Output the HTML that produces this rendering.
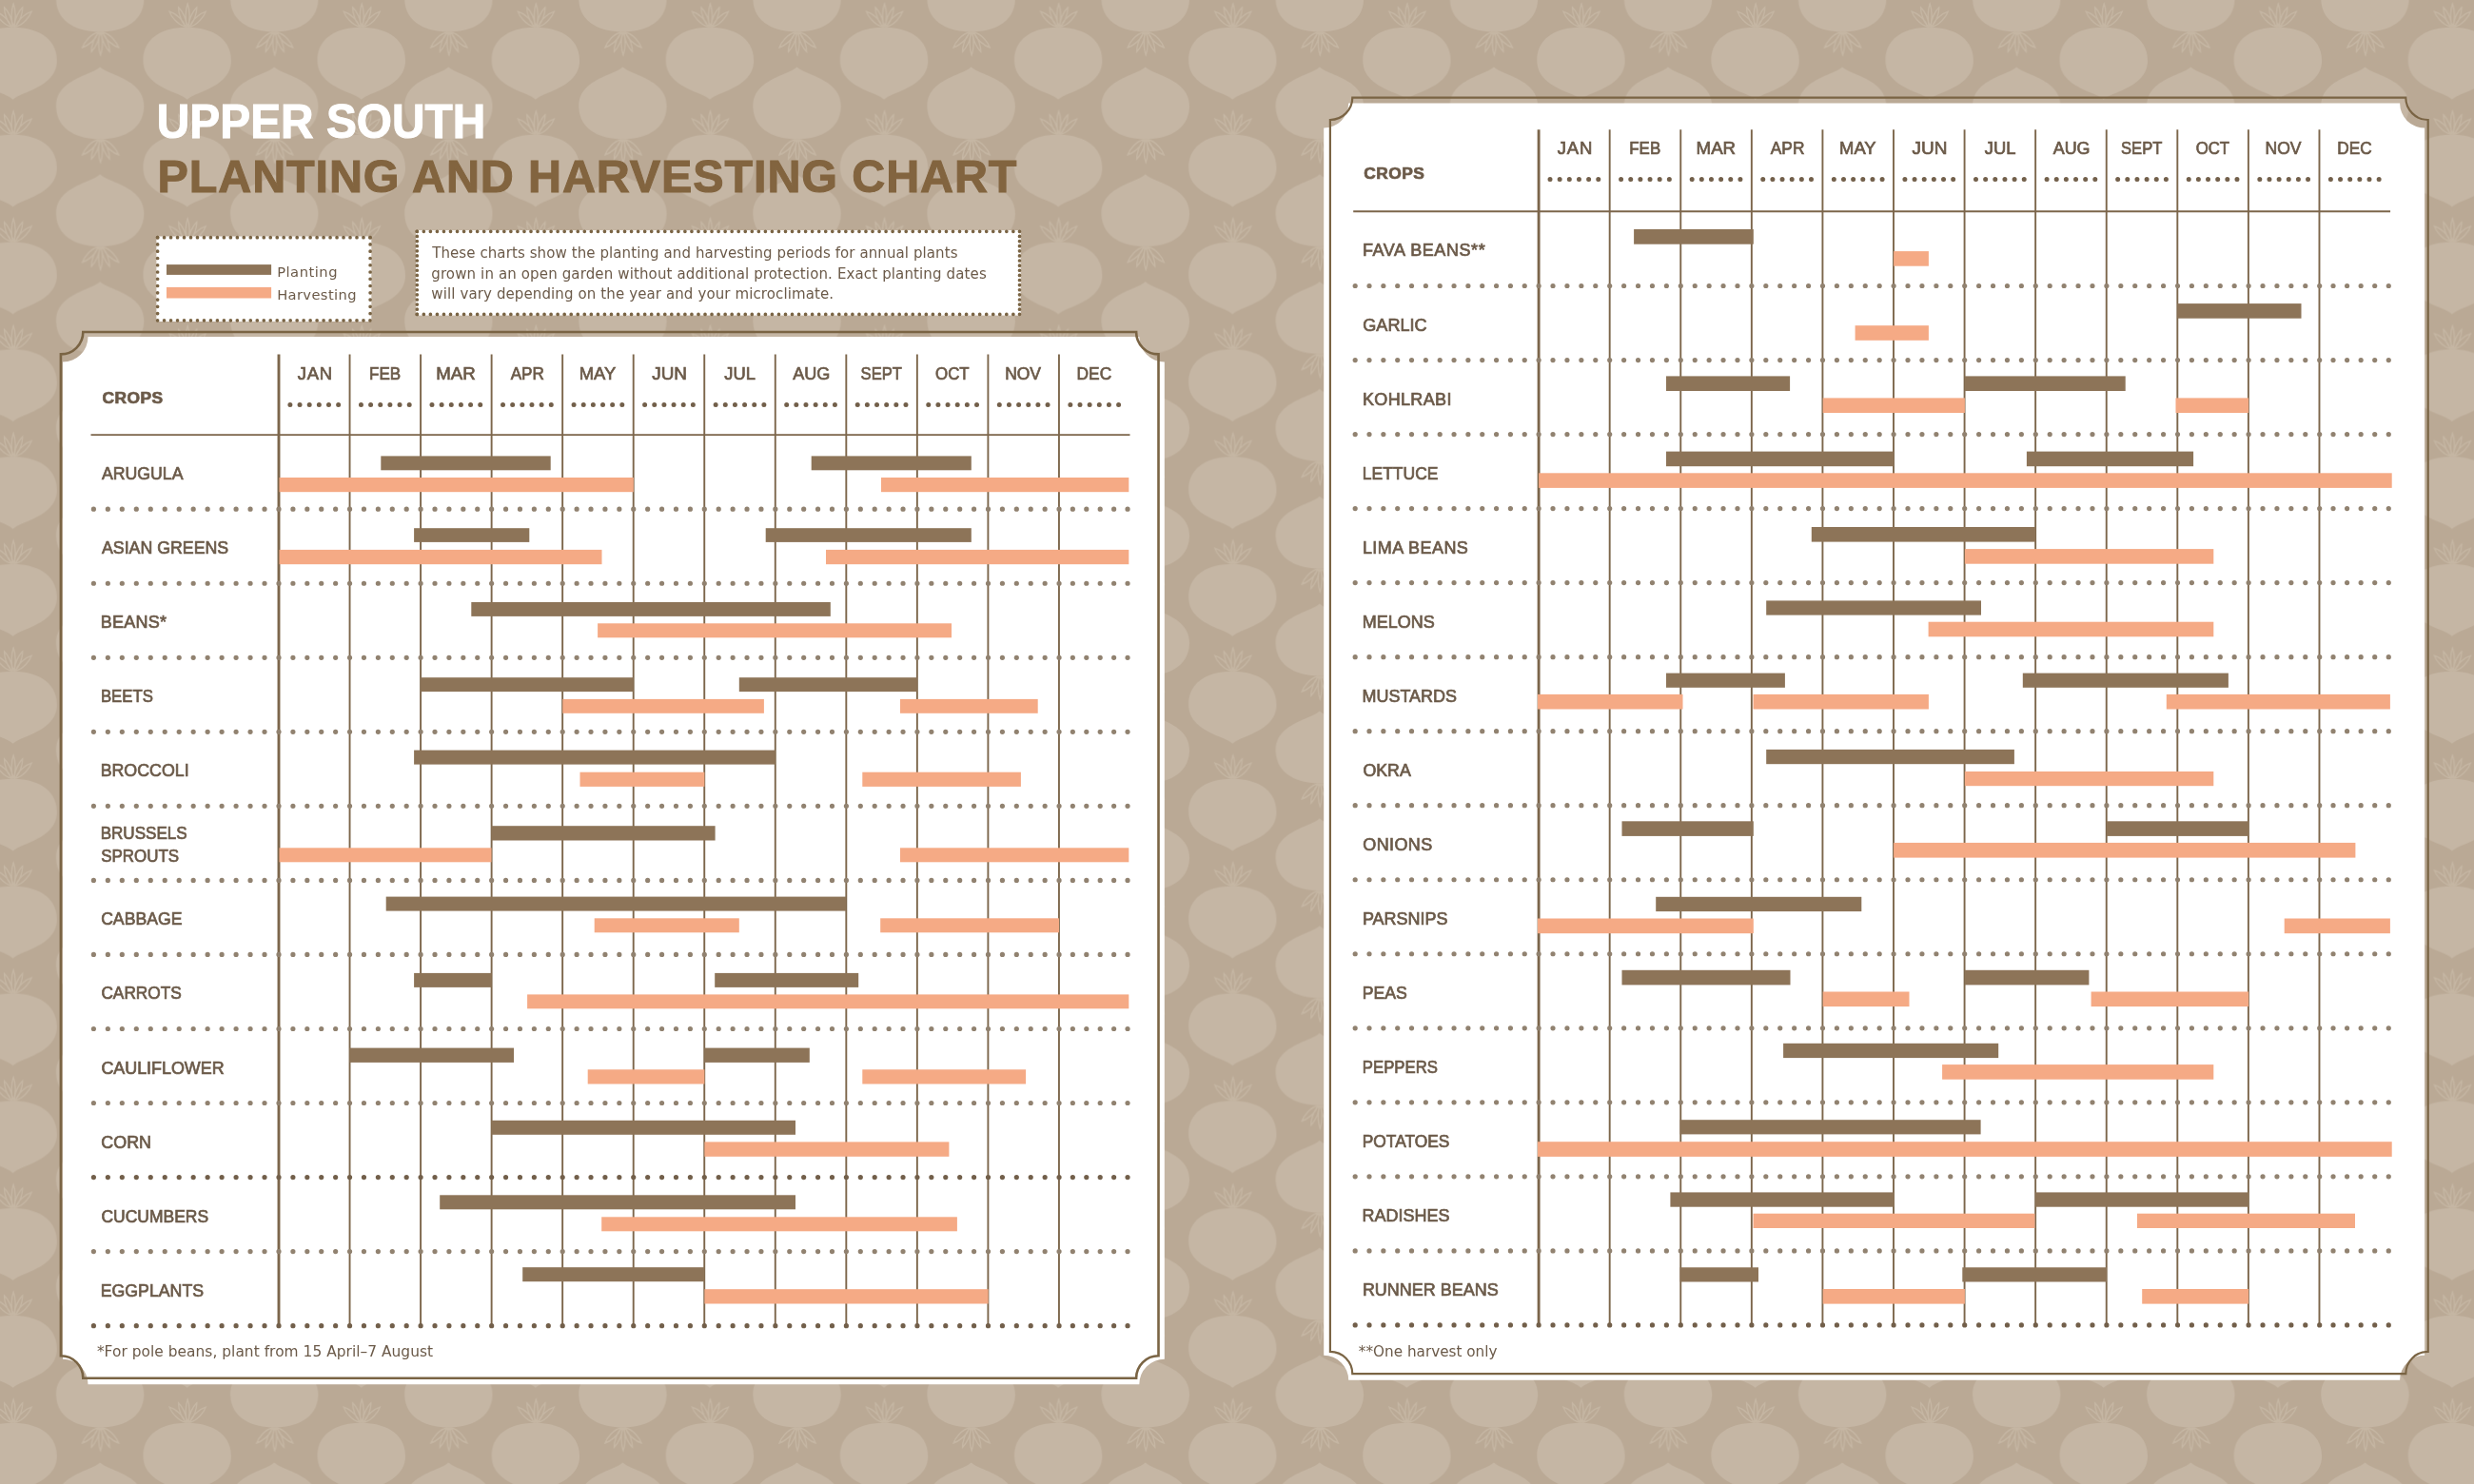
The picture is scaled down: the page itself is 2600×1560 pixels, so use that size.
<!DOCTYPE html>
<html lang="en"><head><meta charset="utf-8"><title>Upper South Planting and Harvesting Chart</title>
<style>html,body{margin:0;padding:0;background:#baa995;}svg{display:block;}text{font-family:"Liberation Sans", sans-serif;}text.b{font-family:"DejaVu Sans", "Liberation Sans", sans-serif;}</style></head>
<body>
<svg width="2600" height="1560" viewBox="0 0 2600 1560">
<g>
<defs>
<g id="tn"><path d="M0,0 C22,0 46.2,9 46.2,35 C46.2,55 27,63 13,69 C7,71.5 2.5,73.6 0,76 C-2.5,73.6 -7,71.5 -13,69 C-27,63 -46.2,55 -46.2,35 C-46.2,9 -22,0 0,0Z" fill="#c5b6a4"/><path d="M-2,-0.5 C-3.98,-8.39 -13.59,-14.98 -18.54,-16.48 C-16.88,-11.58 -9.95,-2.2 -2,-0.5 M3,-0.5 C10.95,-2.2 17.88,-11.58 19.54,-16.48 C14.59,-14.98 4.98,-8.39 3,-0.5 M-0.8,-0.5 C0.07,-7.97 -5.56,-17.56 -9.04,-20.9 C-9.23,-16.08 -6.61,-5.27 -0.8,-0.5 M1.8,-0.5 C7.61,-5.27 10.23,-16.08 10.04,-20.9 C6.56,-17.56 0.93,-7.97 1.8,-0.5 M0.5,-0.5 C3.8,-7.7 2.31,-19.7 0.5,-24.5 C-1.31,-19.7 -2.8,-7.7 0.5,-0.5" fill="none" stroke="#c5b6a3" stroke-width="1.4" stroke-linecap="round"/></g>
<pattern id="bgp" width="183.1" height="112.85" patternUnits="userSpaceOnUse">
<rect width="184.1" height="113.85" fill="#baa995"/>
<use href="#tn" x="13.6" y="-84.25"/>
<use href="#tn" x="13.6" y="28.6"/>
<use href="#tn" x="13.6" y="141.45"/>
<use href="#tn" x="196.7" y="-84.25"/>
<use href="#tn" x="196.7" y="28.6"/>
<use href="#tn" x="196.7" y="141.45"/>
<use href="#tn" transform="translate(105.15,-79.4) scale(1,-1)"/>
<use href="#tn" transform="translate(105.15,33.45) scale(1,-1)"/>
<use href="#tn" transform="translate(105.15,146.3) scale(1,-1)"/>
<use href="#tn" transform="translate(105.15,259.15) scale(1,-1)"/>
</pattern>
<filter id="nf" color-interpolation-filters="sRGB" filterUnits="userSpaceOnUse" x="0" y="0" width="2600" height="1560"><feOffset dx="0" dy="0"/></filter>
</defs>
<rect width="2600" height="1560" fill="url(#bgp)"/>
<rect x="164.4" y="248.5" width="225.9" height="89.5" fill="#ffffff"/>
<line x1="165.6" y1="249.7" x2="389.1" y2="249.7" stroke="#7a6444" stroke-width="3.7" stroke-linecap="round" stroke-dasharray="0 6.98"/>
<line x1="165.6" y1="336.8" x2="389.1" y2="336.8" stroke="#7a6444" stroke-width="3.7" stroke-linecap="round" stroke-dasharray="0 6.98"/>
<line x1="165.6" y1="249.7" x2="165.6" y2="336.8" stroke="#7a6444" stroke-width="3.7" stroke-linecap="round" stroke-dasharray="0 7.26"/>
<line x1="389.1" y1="249.7" x2="389.1" y2="336.8" stroke="#7a6444" stroke-width="3.7" stroke-linecap="round" stroke-dasharray="0 7.26"/>
<rect x="175" y="278.1" width="110.1" height="10.8" fill="#8d7458"/>
<rect x="175" y="301.9" width="110.1" height="11.6" fill="#f5aa85"/>
<rect x="437.1" y="242.1" width="635.6" height="89.5" fill="#ffffff"/>
<line x1="438.3" y1="243.3" x2="1071.5" y2="243.3" stroke="#7a6444" stroke-width="3.7" stroke-linecap="round" stroke-dasharray="0 7.04"/>
<line x1="438.3" y1="330.4" x2="1071.5" y2="330.4" stroke="#7a6444" stroke-width="3.7" stroke-linecap="round" stroke-dasharray="0 7.04"/>
<line x1="438.3" y1="243.3" x2="438.3" y2="330.4" stroke="#7a6444" stroke-width="3.7" stroke-linecap="round" stroke-dasharray="0 5.12"/>
<line x1="1071.5" y1="243.3" x2="1071.5" y2="330.4" stroke="#7a6444" stroke-width="3.7" stroke-linecap="round" stroke-dasharray="0 5.12"/>
<path d="M92.5,354 L1197.3,354 A26.5,26.5 0 0 0 1223.8,380.5 L1223.8,1428.7 A26.5,26.5 0 0 0 1197.3,1455.2 L92.5,1455.2 A26.5,26.5 0 0 0 66,1428.7 L66,380.5 A26.5,26.5 0 0 0 92.5,354Z" fill="#ffffff"/>
<path d="M87.3,349 L1194.1,349 A23.4,23.4 0 0 0 1217.5,372.4 L1217.5,1425.3 A23.4,23.4 0 0 0 1194.1,1448.7 L87.3,1448.7 A23.4,23.4 0 0 0 63.9,1425.3 L63.9,372.4 A23.4,23.4 0 0 0 87.3,349Z" fill="none" stroke="#7a6444" stroke-width="2.6"/>
<path d="M1417.2,108.5 L2522.1,108.5 A26,26 0 0 0 2548.1,134.5 L2548.1,1424.8 A26,26 0 0 0 2522.1,1450.8 L1417.2,1450.8 A26,26 0 0 0 1391.2,1424.8 L1391.2,134.5 A26,26 0 0 0 1417.2,108.5Z" fill="#ffffff"/>
<path d="M1421.3,102.6 L2528.3,102.6 A23.4,23.4 0 0 0 2551.7,126 L2551.7,1420.8 A23.4,23.4 0 0 0 2528.3,1444.2 L1421.3,1444.2 A23.4,23.4 0 0 0 1397.9,1420.8 L1397.9,126 A23.4,23.4 0 0 0 1421.3,102.6Z" fill="none" stroke="#7a6444" stroke-width="2.2"/>
<line x1="293" y1="372.6" x2="293" y2="1393.64" stroke="#7c664b" stroke-width="2.9"/>
<line x1="367.54" y1="372.6" x2="367.54" y2="1393.64" stroke="#7c664b" stroke-width="1.9"/>
<line x1="442.08" y1="372.6" x2="442.08" y2="1393.64" stroke="#7c664b" stroke-width="1.9"/>
<line x1="516.62" y1="372.6" x2="516.62" y2="1393.64" stroke="#7c664b" stroke-width="1.9"/>
<line x1="591.16" y1="372.6" x2="591.16" y2="1393.64" stroke="#7c664b" stroke-width="1.9"/>
<line x1="665.7" y1="372.6" x2="665.7" y2="1393.64" stroke="#7c664b" stroke-width="1.9"/>
<line x1="740.24" y1="372.6" x2="740.24" y2="1393.64" stroke="#7c664b" stroke-width="1.9"/>
<line x1="814.78" y1="372.6" x2="814.78" y2="1393.64" stroke="#7c664b" stroke-width="1.9"/>
<line x1="889.32" y1="372.6" x2="889.32" y2="1393.64" stroke="#7c664b" stroke-width="1.9"/>
<line x1="963.86" y1="372.6" x2="963.86" y2="1393.64" stroke="#7c664b" stroke-width="1.9"/>
<line x1="1038.4" y1="372.6" x2="1038.4" y2="1393.64" stroke="#7c664b" stroke-width="1.9"/>
<line x1="1112.94" y1="372.6" x2="1112.94" y2="1393.64" stroke="#7c664b" stroke-width="1.9"/>
<line x1="95.5" y1="457.1" x2="1187.48" y2="457.1" stroke="#7c664b" stroke-width="1.9"/>
<line x1="304.89" y1="425.4" x2="355.87" y2="425.4" stroke="#725f4a" stroke-width="5" stroke-linecap="round" stroke-dasharray="0 10.15"/>
<line x1="379.44" y1="425.4" x2="430.41" y2="425.4" stroke="#725f4a" stroke-width="5" stroke-linecap="round" stroke-dasharray="0 10.15"/>
<line x1="453.98" y1="425.4" x2="504.95" y2="425.4" stroke="#725f4a" stroke-width="5" stroke-linecap="round" stroke-dasharray="0 10.15"/>
<line x1="528.52" y1="425.4" x2="579.49" y2="425.4" stroke="#725f4a" stroke-width="5" stroke-linecap="round" stroke-dasharray="0 10.15"/>
<line x1="603.06" y1="425.4" x2="654.03" y2="425.4" stroke="#725f4a" stroke-width="5" stroke-linecap="round" stroke-dasharray="0 10.15"/>
<line x1="677.6" y1="425.4" x2="728.57" y2="425.4" stroke="#725f4a" stroke-width="5" stroke-linecap="round" stroke-dasharray="0 10.15"/>
<line x1="752.13" y1="425.4" x2="803.11" y2="425.4" stroke="#725f4a" stroke-width="5" stroke-linecap="round" stroke-dasharray="0 10.15"/>
<line x1="826.68" y1="425.4" x2="877.65" y2="425.4" stroke="#725f4a" stroke-width="5" stroke-linecap="round" stroke-dasharray="0 10.15"/>
<line x1="901.22" y1="425.4" x2="952.19" y2="425.4" stroke="#725f4a" stroke-width="5" stroke-linecap="round" stroke-dasharray="0 10.15"/>
<line x1="975.76" y1="425.4" x2="1026.73" y2="425.4" stroke="#725f4a" stroke-width="5" stroke-linecap="round" stroke-dasharray="0 10.15"/>
<line x1="1050.3" y1="425.4" x2="1101.27" y2="425.4" stroke="#725f4a" stroke-width="5" stroke-linecap="round" stroke-dasharray="0 10.15"/>
<line x1="1124.84" y1="425.4" x2="1175.81" y2="425.4" stroke="#725f4a" stroke-width="5" stroke-linecap="round" stroke-dasharray="0 10.15"/>
<line x1="98.39" y1="535.2" x2="278.53" y2="535.2" stroke="#918270" stroke-width="5.2" stroke-linecap="round" stroke-dasharray="0 14.97"/>
<line x1="293" y1="535.2" x2="1113.44" y2="535.2" stroke="#918270" stroke-width="5.2" stroke-linecap="round" stroke-dasharray="0 14.91"/>
<line x1="1127.36" y1="535.2" x2="1185.54" y2="535.2" stroke="#918270" stroke-width="5.2" stroke-linecap="round" stroke-dasharray="0 14.42"/>
<line x1="98.39" y1="613.24" x2="278.53" y2="613.24" stroke="#918270" stroke-width="5.2" stroke-linecap="round" stroke-dasharray="0 14.97"/>
<line x1="293" y1="613.24" x2="1113.44" y2="613.24" stroke="#918270" stroke-width="5.2" stroke-linecap="round" stroke-dasharray="0 14.91"/>
<line x1="1127.36" y1="613.24" x2="1185.54" y2="613.24" stroke="#918270" stroke-width="5.2" stroke-linecap="round" stroke-dasharray="0 14.42"/>
<line x1="98.39" y1="691.28" x2="278.53" y2="691.28" stroke="#918270" stroke-width="5.2" stroke-linecap="round" stroke-dasharray="0 14.97"/>
<line x1="293" y1="691.28" x2="1113.44" y2="691.28" stroke="#918270" stroke-width="5.2" stroke-linecap="round" stroke-dasharray="0 14.91"/>
<line x1="1127.36" y1="691.28" x2="1185.54" y2="691.28" stroke="#918270" stroke-width="5.2" stroke-linecap="round" stroke-dasharray="0 14.42"/>
<line x1="98.39" y1="769.32" x2="278.53" y2="769.32" stroke="#918270" stroke-width="5.2" stroke-linecap="round" stroke-dasharray="0 14.97"/>
<line x1="293" y1="769.32" x2="1113.44" y2="769.32" stroke="#918270" stroke-width="5.2" stroke-linecap="round" stroke-dasharray="0 14.91"/>
<line x1="1127.36" y1="769.32" x2="1185.54" y2="769.32" stroke="#918270" stroke-width="5.2" stroke-linecap="round" stroke-dasharray="0 14.42"/>
<line x1="98.39" y1="847.36" x2="278.53" y2="847.36" stroke="#918270" stroke-width="5.2" stroke-linecap="round" stroke-dasharray="0 14.97"/>
<line x1="293" y1="847.36" x2="1113.44" y2="847.36" stroke="#918270" stroke-width="5.2" stroke-linecap="round" stroke-dasharray="0 14.91"/>
<line x1="1127.36" y1="847.36" x2="1185.54" y2="847.36" stroke="#918270" stroke-width="5.2" stroke-linecap="round" stroke-dasharray="0 14.42"/>
<line x1="98.39" y1="925.4" x2="278.53" y2="925.4" stroke="#918270" stroke-width="5.2" stroke-linecap="round" stroke-dasharray="0 14.97"/>
<line x1="293" y1="925.4" x2="1113.44" y2="925.4" stroke="#918270" stroke-width="5.2" stroke-linecap="round" stroke-dasharray="0 14.91"/>
<line x1="1127.36" y1="925.4" x2="1185.54" y2="925.4" stroke="#918270" stroke-width="5.2" stroke-linecap="round" stroke-dasharray="0 14.42"/>
<line x1="98.39" y1="1003.44" x2="278.53" y2="1003.44" stroke="#918270" stroke-width="5.2" stroke-linecap="round" stroke-dasharray="0 14.97"/>
<line x1="293" y1="1003.44" x2="1113.44" y2="1003.44" stroke="#918270" stroke-width="5.2" stroke-linecap="round" stroke-dasharray="0 14.91"/>
<line x1="1127.36" y1="1003.44" x2="1185.54" y2="1003.44" stroke="#918270" stroke-width="5.2" stroke-linecap="round" stroke-dasharray="0 14.42"/>
<line x1="98.39" y1="1081.48" x2="278.53" y2="1081.48" stroke="#918270" stroke-width="5.2" stroke-linecap="round" stroke-dasharray="0 14.97"/>
<line x1="293" y1="1081.48" x2="1113.44" y2="1081.48" stroke="#918270" stroke-width="5.2" stroke-linecap="round" stroke-dasharray="0 14.91"/>
<line x1="1127.36" y1="1081.48" x2="1185.54" y2="1081.48" stroke="#918270" stroke-width="5.2" stroke-linecap="round" stroke-dasharray="0 14.42"/>
<line x1="98.39" y1="1159.52" x2="278.53" y2="1159.52" stroke="#918270" stroke-width="5.2" stroke-linecap="round" stroke-dasharray="0 14.97"/>
<line x1="293" y1="1159.52" x2="1113.44" y2="1159.52" stroke="#918270" stroke-width="5.2" stroke-linecap="round" stroke-dasharray="0 14.91"/>
<line x1="1127.36" y1="1159.52" x2="1185.54" y2="1159.52" stroke="#918270" stroke-width="5.2" stroke-linecap="round" stroke-dasharray="0 14.42"/>
<line x1="98.39" y1="1237.56" x2="278.53" y2="1237.56" stroke="#725f4a" stroke-width="5.2" stroke-linecap="round" stroke-dasharray="0 14.97"/>
<line x1="293" y1="1237.56" x2="1113.44" y2="1237.56" stroke="#725f4a" stroke-width="5.2" stroke-linecap="round" stroke-dasharray="0 14.91"/>
<line x1="1127.36" y1="1237.56" x2="1185.54" y2="1237.56" stroke="#725f4a" stroke-width="5.2" stroke-linecap="round" stroke-dasharray="0 14.42"/>
<line x1="98.39" y1="1315.6" x2="278.53" y2="1315.6" stroke="#918270" stroke-width="5.2" stroke-linecap="round" stroke-dasharray="0 14.97"/>
<line x1="293" y1="1315.6" x2="1113.44" y2="1315.6" stroke="#918270" stroke-width="5.2" stroke-linecap="round" stroke-dasharray="0 14.91"/>
<line x1="1127.36" y1="1315.6" x2="1185.54" y2="1315.6" stroke="#918270" stroke-width="5.2" stroke-linecap="round" stroke-dasharray="0 14.42"/>
<line x1="98.39" y1="1393.64" x2="278.53" y2="1393.64" stroke="#725f4a" stroke-width="5.2" stroke-linecap="round" stroke-dasharray="0 14.97"/>
<line x1="293" y1="1393.64" x2="1113.44" y2="1393.64" stroke="#725f4a" stroke-width="5.2" stroke-linecap="round" stroke-dasharray="0 14.91"/>
<line x1="1127.36" y1="1393.64" x2="1185.54" y2="1393.64" stroke="#725f4a" stroke-width="5.2" stroke-linecap="round" stroke-dasharray="0 14.42"/>
<rect x="400.3" y="479.4" width="178.4" height="14.9" fill="#8d7458"/>
<rect x="852.7" y="479.4" width="168.1" height="14.9" fill="#8d7458"/>
<rect x="293.5" y="502" width="372.3" height="15.2" fill="#f5aa85"/>
<rect x="926" y="502" width="260.3" height="15.2" fill="#f5aa85"/>
<rect x="435.1" y="555.2" width="121.2" height="14.7" fill="#8d7458"/>
<rect x="804.7" y="555.2" width="216.1" height="14.7" fill="#8d7458"/>
<rect x="293.5" y="577.9" width="339" height="15.3" fill="#f5aa85"/>
<rect x="868" y="577.9" width="318.3" height="15.3" fill="#f5aa85"/>
<rect x="495.3" y="633" width="377.5" height="14.9" fill="#8d7458"/>
<rect x="628.1" y="655.3" width="371.9" height="15" fill="#f5aa85"/>
<rect x="442.1" y="712.2" width="223.5" height="14.9" fill="#8d7458"/>
<rect x="776.8" y="712.2" width="187.1" height="14.9" fill="#8d7458"/>
<rect x="591.3" y="734.9" width="211.6" height="14.9" fill="#f5aa85"/>
<rect x="946" y="734.9" width="144.7" height="14.9" fill="#f5aa85"/>
<rect x="435.1" y="788.6" width="379.7" height="15" fill="#8d7458"/>
<rect x="609.5" y="811.7" width="130.9" height="15.2" fill="#f5aa85"/>
<rect x="906.3" y="811.7" width="166.6" height="15.2" fill="#f5aa85"/>
<rect x="516.5" y="868.2" width="235.1" height="15.3" fill="#8d7458"/>
<rect x="293.5" y="891.3" width="223" height="15" fill="#f5aa85"/>
<rect x="946" y="891.3" width="240.3" height="15" fill="#f5aa85"/>
<rect x="405.7" y="942.6" width="483.4" height="15" fill="#8d7458"/>
<rect x="624.7" y="965.3" width="152.1" height="15" fill="#f5aa85"/>
<rect x="925.2" y="965.3" width="187.8" height="15" fill="#f5aa85"/>
<rect x="435.1" y="1022.9" width="81.4" height="15" fill="#8d7458"/>
<rect x="751.2" y="1022.9" width="151" height="15" fill="#8d7458"/>
<rect x="554.1" y="1045.4" width="632.2" height="14.9" fill="#f5aa85"/>
<rect x="367.4" y="1101.6" width="172.6" height="15.3" fill="#8d7458"/>
<rect x="740.4" y="1101.6" width="110.4" height="15.3" fill="#8d7458"/>
<rect x="617.7" y="1124.3" width="122.7" height="15.2" fill="#f5aa85"/>
<rect x="906.3" y="1124.3" width="171.8" height="15.2" fill="#f5aa85"/>
<rect x="516.5" y="1177.8" width="319.5" height="15" fill="#8d7458"/>
<rect x="740.4" y="1200.4" width="257" height="15.4" fill="#f5aa85"/>
<rect x="462.2" y="1256.3" width="373.8" height="15" fill="#8d7458"/>
<rect x="632.2" y="1279.3" width="373.7" height="15" fill="#f5aa85"/>
<rect x="549.2" y="1332.2" width="191.2" height="15" fill="#8d7458"/>
<rect x="740.4" y="1355.2" width="298.2" height="15.3" fill="#f5aa85"/>
<line x1="1617.1" y1="136.2" x2="1617.1" y2="1392.92" stroke="#7c664b" stroke-width="2.9"/>
<line x1="1691.68" y1="136.2" x2="1691.68" y2="1392.92" stroke="#7c664b" stroke-width="1.9"/>
<line x1="1766.26" y1="136.2" x2="1766.26" y2="1392.92" stroke="#7c664b" stroke-width="1.9"/>
<line x1="1840.84" y1="136.2" x2="1840.84" y2="1392.92" stroke="#7c664b" stroke-width="1.9"/>
<line x1="1915.42" y1="136.2" x2="1915.42" y2="1392.92" stroke="#7c664b" stroke-width="1.9"/>
<line x1="1990" y1="136.2" x2="1990" y2="1392.92" stroke="#7c664b" stroke-width="1.9"/>
<line x1="2064.58" y1="136.2" x2="2064.58" y2="1392.92" stroke="#7c664b" stroke-width="1.9"/>
<line x1="2139.16" y1="136.2" x2="2139.16" y2="1392.92" stroke="#7c664b" stroke-width="1.9"/>
<line x1="2213.74" y1="136.2" x2="2213.74" y2="1392.92" stroke="#7c664b" stroke-width="1.9"/>
<line x1="2288.32" y1="136.2" x2="2288.32" y2="1392.92" stroke="#7c664b" stroke-width="1.9"/>
<line x1="2362.9" y1="136.2" x2="2362.9" y2="1392.92" stroke="#7c664b" stroke-width="1.9"/>
<line x1="2437.48" y1="136.2" x2="2437.48" y2="1392.92" stroke="#7c664b" stroke-width="1.9"/>
<line x1="1422.2" y1="222.2" x2="2512.06" y2="222.2" stroke="#7c664b" stroke-width="1.9"/>
<line x1="1629.01" y1="188.5" x2="1679.99" y2="188.5" stroke="#725f4a" stroke-width="5" stroke-linecap="round" stroke-dasharray="0 10.15"/>
<line x1="1703.59" y1="188.5" x2="1754.57" y2="188.5" stroke="#725f4a" stroke-width="5" stroke-linecap="round" stroke-dasharray="0 10.15"/>
<line x1="1778.17" y1="188.5" x2="1829.15" y2="188.5" stroke="#725f4a" stroke-width="5" stroke-linecap="round" stroke-dasharray="0 10.15"/>
<line x1="1852.75" y1="188.5" x2="1903.73" y2="188.5" stroke="#725f4a" stroke-width="5" stroke-linecap="round" stroke-dasharray="0 10.15"/>
<line x1="1927.34" y1="188.5" x2="1978.31" y2="188.5" stroke="#725f4a" stroke-width="5" stroke-linecap="round" stroke-dasharray="0 10.15"/>
<line x1="2001.91" y1="188.5" x2="2052.89" y2="188.5" stroke="#725f4a" stroke-width="5" stroke-linecap="round" stroke-dasharray="0 10.15"/>
<line x1="2076.49" y1="188.5" x2="2127.47" y2="188.5" stroke="#725f4a" stroke-width="5" stroke-linecap="round" stroke-dasharray="0 10.15"/>
<line x1="2151.07" y1="188.5" x2="2202.05" y2="188.5" stroke="#725f4a" stroke-width="5" stroke-linecap="round" stroke-dasharray="0 10.15"/>
<line x1="2225.65" y1="188.5" x2="2276.63" y2="188.5" stroke="#725f4a" stroke-width="5" stroke-linecap="round" stroke-dasharray="0 10.15"/>
<line x1="2300.23" y1="188.5" x2="2351.21" y2="188.5" stroke="#725f4a" stroke-width="5" stroke-linecap="round" stroke-dasharray="0 10.15"/>
<line x1="2374.82" y1="188.5" x2="2425.79" y2="188.5" stroke="#725f4a" stroke-width="5" stroke-linecap="round" stroke-dasharray="0 10.15"/>
<line x1="2449.39" y1="188.5" x2="2500.37" y2="188.5" stroke="#725f4a" stroke-width="5" stroke-linecap="round" stroke-dasharray="0 10.15"/>
<line x1="1424.18" y1="300.5" x2="1602.76" y2="300.5" stroke="#918270" stroke-width="5.2" stroke-linecap="round" stroke-dasharray="0 14.84"/>
<line x1="1617.1" y1="300.5" x2="2437.98" y2="300.5" stroke="#918270" stroke-width="5.2" stroke-linecap="round" stroke-dasharray="0 14.92"/>
<line x1="2452.04" y1="300.5" x2="2510.78" y2="300.5" stroke="#918270" stroke-width="5.2" stroke-linecap="round" stroke-dasharray="0 14.56"/>
<line x1="1424.18" y1="378.53" x2="1602.76" y2="378.53" stroke="#918270" stroke-width="5.2" stroke-linecap="round" stroke-dasharray="0 14.84"/>
<line x1="1617.1" y1="378.53" x2="2437.98" y2="378.53" stroke="#918270" stroke-width="5.2" stroke-linecap="round" stroke-dasharray="0 14.92"/>
<line x1="2452.04" y1="378.53" x2="2510.78" y2="378.53" stroke="#918270" stroke-width="5.2" stroke-linecap="round" stroke-dasharray="0 14.56"/>
<line x1="1424.18" y1="456.56" x2="1602.76" y2="456.56" stroke="#918270" stroke-width="5.2" stroke-linecap="round" stroke-dasharray="0 14.84"/>
<line x1="1617.1" y1="456.56" x2="2437.98" y2="456.56" stroke="#918270" stroke-width="5.2" stroke-linecap="round" stroke-dasharray="0 14.92"/>
<line x1="2452.04" y1="456.56" x2="2510.78" y2="456.56" stroke="#918270" stroke-width="5.2" stroke-linecap="round" stroke-dasharray="0 14.56"/>
<line x1="1424.18" y1="534.59" x2="1602.76" y2="534.59" stroke="#918270" stroke-width="5.2" stroke-linecap="round" stroke-dasharray="0 14.84"/>
<line x1="1617.1" y1="534.59" x2="2437.98" y2="534.59" stroke="#918270" stroke-width="5.2" stroke-linecap="round" stroke-dasharray="0 14.92"/>
<line x1="2452.04" y1="534.59" x2="2510.78" y2="534.59" stroke="#918270" stroke-width="5.2" stroke-linecap="round" stroke-dasharray="0 14.56"/>
<line x1="1424.18" y1="612.62" x2="1602.76" y2="612.62" stroke="#918270" stroke-width="5.2" stroke-linecap="round" stroke-dasharray="0 14.84"/>
<line x1="1617.1" y1="612.62" x2="2437.98" y2="612.62" stroke="#918270" stroke-width="5.2" stroke-linecap="round" stroke-dasharray="0 14.92"/>
<line x1="2452.04" y1="612.62" x2="2510.78" y2="612.62" stroke="#918270" stroke-width="5.2" stroke-linecap="round" stroke-dasharray="0 14.56"/>
<line x1="1424.18" y1="690.65" x2="1602.76" y2="690.65" stroke="#918270" stroke-width="5.2" stroke-linecap="round" stroke-dasharray="0 14.84"/>
<line x1="1617.1" y1="690.65" x2="2437.98" y2="690.65" stroke="#918270" stroke-width="5.2" stroke-linecap="round" stroke-dasharray="0 14.92"/>
<line x1="2452.04" y1="690.65" x2="2510.78" y2="690.65" stroke="#918270" stroke-width="5.2" stroke-linecap="round" stroke-dasharray="0 14.56"/>
<line x1="1424.18" y1="768.68" x2="1602.76" y2="768.68" stroke="#918270" stroke-width="5.2" stroke-linecap="round" stroke-dasharray="0 14.84"/>
<line x1="1617.1" y1="768.68" x2="2437.98" y2="768.68" stroke="#918270" stroke-width="5.2" stroke-linecap="round" stroke-dasharray="0 14.92"/>
<line x1="2452.04" y1="768.68" x2="2510.78" y2="768.68" stroke="#918270" stroke-width="5.2" stroke-linecap="round" stroke-dasharray="0 14.56"/>
<line x1="1424.18" y1="846.71" x2="1602.76" y2="846.71" stroke="#918270" stroke-width="5.2" stroke-linecap="round" stroke-dasharray="0 14.84"/>
<line x1="1617.1" y1="846.71" x2="2437.98" y2="846.71" stroke="#918270" stroke-width="5.2" stroke-linecap="round" stroke-dasharray="0 14.92"/>
<line x1="2452.04" y1="846.71" x2="2510.78" y2="846.71" stroke="#918270" stroke-width="5.2" stroke-linecap="round" stroke-dasharray="0 14.56"/>
<line x1="1424.18" y1="924.74" x2="1602.76" y2="924.74" stroke="#918270" stroke-width="5.2" stroke-linecap="round" stroke-dasharray="0 14.84"/>
<line x1="1617.1" y1="924.74" x2="2437.98" y2="924.74" stroke="#918270" stroke-width="5.2" stroke-linecap="round" stroke-dasharray="0 14.92"/>
<line x1="2452.04" y1="924.74" x2="2510.78" y2="924.74" stroke="#918270" stroke-width="5.2" stroke-linecap="round" stroke-dasharray="0 14.56"/>
<line x1="1424.18" y1="1002.77" x2="1602.76" y2="1002.77" stroke="#918270" stroke-width="5.2" stroke-linecap="round" stroke-dasharray="0 14.84"/>
<line x1="1617.1" y1="1002.77" x2="2437.98" y2="1002.77" stroke="#918270" stroke-width="5.2" stroke-linecap="round" stroke-dasharray="0 14.92"/>
<line x1="2452.04" y1="1002.77" x2="2510.78" y2="1002.77" stroke="#918270" stroke-width="5.2" stroke-linecap="round" stroke-dasharray="0 14.56"/>
<line x1="1424.18" y1="1080.8" x2="1602.76" y2="1080.8" stroke="#918270" stroke-width="5.2" stroke-linecap="round" stroke-dasharray="0 14.84"/>
<line x1="1617.1" y1="1080.8" x2="2437.98" y2="1080.8" stroke="#918270" stroke-width="5.2" stroke-linecap="round" stroke-dasharray="0 14.92"/>
<line x1="2452.04" y1="1080.8" x2="2510.78" y2="1080.8" stroke="#918270" stroke-width="5.2" stroke-linecap="round" stroke-dasharray="0 14.56"/>
<line x1="1424.18" y1="1158.83" x2="1602.76" y2="1158.83" stroke="#918270" stroke-width="5.2" stroke-linecap="round" stroke-dasharray="0 14.84"/>
<line x1="1617.1" y1="1158.83" x2="2437.98" y2="1158.83" stroke="#918270" stroke-width="5.2" stroke-linecap="round" stroke-dasharray="0 14.92"/>
<line x1="2452.04" y1="1158.83" x2="2510.78" y2="1158.83" stroke="#918270" stroke-width="5.2" stroke-linecap="round" stroke-dasharray="0 14.56"/>
<line x1="1424.18" y1="1236.86" x2="1602.76" y2="1236.86" stroke="#918270" stroke-width="5.2" stroke-linecap="round" stroke-dasharray="0 14.84"/>
<line x1="1617.1" y1="1236.86" x2="2437.98" y2="1236.86" stroke="#918270" stroke-width="5.2" stroke-linecap="round" stroke-dasharray="0 14.92"/>
<line x1="2452.04" y1="1236.86" x2="2510.78" y2="1236.86" stroke="#918270" stroke-width="5.2" stroke-linecap="round" stroke-dasharray="0 14.56"/>
<line x1="1424.18" y1="1314.89" x2="1602.76" y2="1314.89" stroke="#918270" stroke-width="5.2" stroke-linecap="round" stroke-dasharray="0 14.84"/>
<line x1="1617.1" y1="1314.89" x2="2437.98" y2="1314.89" stroke="#918270" stroke-width="5.2" stroke-linecap="round" stroke-dasharray="0 14.92"/>
<line x1="2452.04" y1="1314.89" x2="2510.78" y2="1314.89" stroke="#918270" stroke-width="5.2" stroke-linecap="round" stroke-dasharray="0 14.56"/>
<line x1="1424.18" y1="1392.92" x2="1602.76" y2="1392.92" stroke="#725f4a" stroke-width="5.2" stroke-linecap="round" stroke-dasharray="0 14.84"/>
<line x1="1617.1" y1="1392.92" x2="2437.98" y2="1392.92" stroke="#725f4a" stroke-width="5.2" stroke-linecap="round" stroke-dasharray="0 14.92"/>
<line x1="2452.04" y1="1392.92" x2="2510.78" y2="1392.92" stroke="#725f4a" stroke-width="5.2" stroke-linecap="round" stroke-dasharray="0 14.56"/>
<rect x="1717.1" y="241" width="125.7" height="15.7" fill="#8d7458"/>
<rect x="1990.1" y="264.1" width="36.8" height="15.6" fill="#f5aa85"/>
<rect x="2288.4" y="319.1" width="130.1" height="15.6" fill="#8d7458"/>
<rect x="1949.6" y="342.2" width="77.3" height="15.6" fill="#f5aa85"/>
<rect x="1751" y="395.4" width="130.1" height="15.6" fill="#8d7458"/>
<rect x="2064.9" y="395.4" width="168.8" height="15.6" fill="#8d7458"/>
<rect x="1915.7" y="418.4" width="149.2" height="15.6" fill="#f5aa85"/>
<rect x="2286.5" y="418.4" width="76.6" height="15.6" fill="#f5aa85"/>
<rect x="1751" y="474.6" width="239.1" height="15.6" fill="#8d7458"/>
<rect x="2129.9" y="474.6" width="175.2" height="15.6" fill="#8d7458"/>
<rect x="1617.1" y="497.3" width="896.6" height="15.6" fill="#f5aa85"/>
<rect x="1903.8" y="554" width="235.4" height="15.6" fill="#8d7458"/>
<rect x="2064.9" y="577.1" width="261.4" height="15.6" fill="#f5aa85"/>
<rect x="1856.2" y="631.4" width="225.8" height="15.2" fill="#8d7458"/>
<rect x="2026.6" y="653.7" width="299.7" height="15.6" fill="#f5aa85"/>
<rect x="1751" y="707.6" width="124.9" height="15.2" fill="#8d7458"/>
<rect x="2125.8" y="707.6" width="216.1" height="15.2" fill="#8d7458"/>
<rect x="1616" y="729.9" width="152.5" height="15.6" fill="#f5aa85"/>
<rect x="1842.5" y="729.9" width="184.4" height="15.6" fill="#f5aa85"/>
<rect x="2276.8" y="729.9" width="235.1" height="15.6" fill="#f5aa85"/>
<rect x="1856.2" y="787.9" width="260.7" height="15.3" fill="#8d7458"/>
<rect x="2064.9" y="811" width="261.4" height="15.2" fill="#f5aa85"/>
<rect x="1704.5" y="863.3" width="138.3" height="15.6" fill="#8d7458"/>
<rect x="2214" y="863.3" width="149.1" height="15.6" fill="#8d7458"/>
<rect x="1990.1" y="885.9" width="485.3" height="15.7" fill="#f5aa85"/>
<rect x="1740.2" y="942.8" width="216.1" height="15.3" fill="#8d7458"/>
<rect x="1616" y="965.5" width="226.8" height="15.7" fill="#f5aa85"/>
<rect x="2400.7" y="965.5" width="111.2" height="15.7" fill="#f5aa85"/>
<rect x="1704.5" y="1019.8" width="177" height="15.6" fill="#8d7458"/>
<rect x="2064.9" y="1019.8" width="130.5" height="15.6" fill="#8d7458"/>
<rect x="1915.7" y="1042.5" width="90.8" height="15.6" fill="#f5aa85"/>
<rect x="2197.6" y="1042.5" width="165.5" height="15.6" fill="#f5aa85"/>
<rect x="1874.1" y="1096.8" width="226.1" height="15.3" fill="#8d7458"/>
<rect x="2041.1" y="1119.1" width="285.2" height="15.6" fill="#f5aa85"/>
<rect x="1765.5" y="1177.2" width="316.1" height="15.2" fill="#8d7458"/>
<rect x="1616" y="1200.2" width="897.7" height="15.7" fill="#f5aa85"/>
<rect x="1755.4" y="1253.4" width="235.1" height="15.3" fill="#8d7458"/>
<rect x="2139.2" y="1253.4" width="223.9" height="15.3" fill="#8d7458"/>
<rect x="1842.5" y="1275.7" width="296" height="15.3" fill="#f5aa85"/>
<rect x="2246" y="1275.7" width="229" height="15.3" fill="#f5aa85"/>
<rect x="1765.5" y="1332.3" width="82.5" height="15.2" fill="#8d7458"/>
<rect x="2062.3" y="1332.3" width="151.7" height="15.2" fill="#8d7458"/>
<rect x="1915.7" y="1355" width="149.2" height="15.6" fill="#f5aa85"/>
<rect x="2251.2" y="1355" width="111.9" height="15.6" fill="#f5aa85"/>
<g filter="url(#nf)">
<text x="164.81" y="145" font-size="49.5" fill="#ffffff" textLength="345.5" lengthAdjust="spacingAndGlyphs" font-weight="700" stroke="#ffffff" stroke-width="1">UPPER SOUTH</text>
<text x="165.55" y="202" font-size="48.5" fill="#82643f" textLength="902.94" lengthAdjust="spacing" font-weight="700" stroke="#82643f" stroke-width="1">PLANTING AND HARVESTING CHART</text>
<text x="291.14" y="290.9" font-size="14.7" fill="#6b5a49" textLength="63.37" lengthAdjust="spacing" class="b">Planting</text>
<text x="291.14" y="315.2" font-size="14.7" fill="#6b5a49" textLength="83.37" lengthAdjust="spacing" class="b">Harvesting</text>
<text x="454.14" y="271.3" font-size="15" fill="#6b5a49" textLength="552.39" lengthAdjust="spacing" class="b">These charts show the planting and harvesting periods for annual plants</text>
<text x="453.23" y="293" font-size="15" fill="#6b5a49" textLength="583.5" lengthAdjust="spacing" class="b">grown in an open garden without additional protection. Exact planting dates</text>
<text x="453.35" y="314.4" font-size="15" fill="#6b5a49" textLength="422.75" lengthAdjust="spacing" class="b">will vary depending on the year and your microclimate.</text>
<text x="312.63" y="399.1" font-size="18.5" fill="#6b5a49" textLength="36.54" lengthAdjust="spacing" stroke="#6b5a49" stroke-width="0.7">JAN</text>
<text x="387.97" y="399.1" font-size="18.5" fill="#6b5a49" textLength="33.15" lengthAdjust="spacingAndGlyphs" stroke="#6b5a49" stroke-width="0.7">FEB</text>
<text x="458.3" y="399.1" font-size="18.5" fill="#6b5a49" textLength="41.52" lengthAdjust="spacingAndGlyphs" stroke="#6b5a49" stroke-width="0.7">MAR</text>
<text x="536.67" y="399.1" font-size="18.5" fill="#6b5a49" textLength="35.33" lengthAdjust="spacingAndGlyphs" stroke="#6b5a49" stroke-width="0.7">APR</text>
<text x="608.73" y="399.1" font-size="18.5" fill="#6b5a49" textLength="38.51" lengthAdjust="spacingAndGlyphs" stroke="#6b5a49" stroke-width="0.7">MAY</text>
<text x="685.19" y="399.1" font-size="18.5" fill="#6b5a49" textLength="36.81" lengthAdjust="spacingAndGlyphs" stroke="#6b5a49" stroke-width="0.7">JUN</text>
<text x="761.23" y="399.1" font-size="18.5" fill="#6b5a49" textLength="32.62" lengthAdjust="spacingAndGlyphs" stroke="#6b5a49" stroke-width="0.7">JUL</text>
<text x="833.14" y="399.1" font-size="18.5" fill="#6b5a49" textLength="39.15" lengthAdjust="spacingAndGlyphs" stroke="#6b5a49" stroke-width="0.7">AUG</text>
<text x="904.61" y="399.1" font-size="18.5" fill="#6b5a49" textLength="43.37" lengthAdjust="spacingAndGlyphs" stroke="#6b5a49" stroke-width="0.7">SEPT</text>
<text x="983.06" y="399.1" font-size="18.5" fill="#6b5a49" textLength="35.59" lengthAdjust="spacingAndGlyphs" stroke="#6b5a49" stroke-width="0.7">OCT</text>
<text x="1056.14" y="399.1" font-size="18.5" fill="#6b5a49" textLength="37.91" lengthAdjust="spacingAndGlyphs" stroke="#6b5a49" stroke-width="0.7">NOV</text>
<text x="1131.59" y="399.1" font-size="18.5" fill="#6b5a49" textLength="36.58" lengthAdjust="spacingAndGlyphs" stroke="#6b5a49" stroke-width="0.7">DEC</text>
<text x="107.49" y="423.5" font-size="17.4" fill="#6b5a49" textLength="63.73" lengthAdjust="spacing" font-weight="700" stroke="#6b5a49" stroke-width="0.7">CROPS</text>
<text x="106.92" y="504.15" font-size="18" fill="#6b5a49" textLength="85.6" lengthAdjust="spacingAndGlyphs" stroke="#6b5a49" stroke-width="0.7">ARUGULA</text>
<text x="106.94" y="582.22" font-size="18" fill="#6b5a49" textLength="133.28" lengthAdjust="spacingAndGlyphs" stroke="#6b5a49" stroke-width="0.7">ASIAN GREENS</text>
<text x="105.78" y="660.26" font-size="18" fill="#6b5a49" textLength="69.25" lengthAdjust="spacing" stroke="#6b5a49" stroke-width="0.7">BEANS*</text>
<text x="105.91" y="738.3" font-size="18" fill="#6b5a49" textLength="54.98" lengthAdjust="spacingAndGlyphs" stroke="#6b5a49" stroke-width="0.7">BEETS</text>
<text x="105.63" y="816.34" font-size="18" fill="#6b5a49" textLength="92.98" lengthAdjust="spacingAndGlyphs" stroke="#6b5a49" stroke-width="0.7">BROCCOLI</text>
<text x="105.63" y="881.68" font-size="18" fill="#6b5a49" textLength="91.05" lengthAdjust="spacingAndGlyphs" stroke="#6b5a49" stroke-width="0.7">BRUSSELS</text>
<text x="106.19" y="905.98" font-size="18" fill="#6b5a49" textLength="81.95" lengthAdjust="spacingAndGlyphs" stroke="#6b5a49" stroke-width="0.7">SPROUTS</text>
<text x="106.14" y="972.42" font-size="18" fill="#6b5a49" textLength="85.35" lengthAdjust="spacingAndGlyphs" stroke="#6b5a49" stroke-width="0.7">CABBAGE</text>
<text x="106.4" y="1050.46" font-size="18" fill="#6b5a49" textLength="84.47" lengthAdjust="spacingAndGlyphs" stroke="#6b5a49" stroke-width="0.7">CARROTS</text>
<text x="106.39" y="1128.5" font-size="18" fill="#6b5a49" textLength="129.23" lengthAdjust="spacingAndGlyphs" stroke="#6b5a49" stroke-width="0.7">CAULIFLOWER</text>
<text x="106.34" y="1206.54" font-size="18" fill="#6b5a49" textLength="52.66" lengthAdjust="spacingAndGlyphs" stroke="#6b5a49" stroke-width="0.7">CORN</text>
<text x="106.38" y="1284.58" font-size="18" fill="#6b5a49" textLength="112.74" lengthAdjust="spacingAndGlyphs" stroke="#6b5a49" stroke-width="0.7">CUCUMBERS</text>
<text x="105.75" y="1362.62" font-size="18" fill="#6b5a49" textLength="108.27" lengthAdjust="spacingAndGlyphs" stroke="#6b5a49" stroke-width="0.7">EGGPLANTS</text>
<text x="101.89" y="1426" font-size="15.4" fill="#6b5a49" textLength="353.2" lengthAdjust="spacing" class="b">*For pole beans, plant from 15 April–7 August</text>
<text x="1636.65" y="161.7" font-size="18.5" fill="#6b5a49" textLength="36.69" lengthAdjust="spacing" stroke="#6b5a49" stroke-width="0.7">JAN</text>
<text x="1712.28" y="161.7" font-size="18.5" fill="#6b5a49" textLength="32.94" lengthAdjust="spacingAndGlyphs" stroke="#6b5a49" stroke-width="0.7">FEB</text>
<text x="1782.59" y="161.7" font-size="18.5" fill="#6b5a49" textLength="41.55" lengthAdjust="spacingAndGlyphs" stroke="#6b5a49" stroke-width="0.7">MAR</text>
<text x="1860.74" y="161.7" font-size="18.5" fill="#6b5a49" textLength="35.69" lengthAdjust="spacingAndGlyphs" stroke="#6b5a49" stroke-width="0.7">APR</text>
<text x="1933.07" y="161.7" font-size="18.5" fill="#6b5a49" textLength="38.49" lengthAdjust="spacingAndGlyphs" stroke="#6b5a49" stroke-width="0.7">MAY</text>
<text x="2009.5" y="161.7" font-size="18.5" fill="#6b5a49" textLength="36.89" lengthAdjust="spacingAndGlyphs" stroke="#6b5a49" stroke-width="0.7">JUN</text>
<text x="2085.72" y="161.7" font-size="18.5" fill="#6b5a49" textLength="32.7" lengthAdjust="spacingAndGlyphs" stroke="#6b5a49" stroke-width="0.7">JUL</text>
<text x="2157.72" y="161.7" font-size="18.5" fill="#6b5a49" textLength="38.8" lengthAdjust="spacingAndGlyphs" stroke="#6b5a49" stroke-width="0.7">AUG</text>
<text x="2229.02" y="161.7" font-size="18.5" fill="#6b5a49" textLength="43.34" lengthAdjust="spacingAndGlyphs" stroke="#6b5a49" stroke-width="0.7">SEPT</text>
<text x="2307.67" y="161.7" font-size="18.5" fill="#6b5a49" textLength="35.44" lengthAdjust="spacingAndGlyphs" stroke="#6b5a49" stroke-width="0.7">OCT</text>
<text x="2380.55" y="161.7" font-size="18.5" fill="#6b5a49" textLength="37.99" lengthAdjust="spacingAndGlyphs" stroke="#6b5a49" stroke-width="0.7">NOV</text>
<text x="2456.3" y="161.7" font-size="18.5" fill="#6b5a49" textLength="36.41" lengthAdjust="spacingAndGlyphs" stroke="#6b5a49" stroke-width="0.7">DEC</text>
<text x="1433.36" y="187.6" font-size="17.4" fill="#6b5a49" textLength="63.41" lengthAdjust="spacing" font-weight="700" stroke="#6b5a49" stroke-width="0.7">CROPS</text>
<text x="1431.91" y="269.35" font-size="18" fill="#6b5a49" textLength="128.79" lengthAdjust="spacing" stroke="#6b5a49" stroke-width="0.7">FAVA BEANS**</text>
<text x="1432.31" y="347.51" font-size="18" fill="#6b5a49" textLength="67.39" lengthAdjust="spacingAndGlyphs" stroke="#6b5a49" stroke-width="0.7">GARLIC</text>
<text x="1431.91" y="425.54" font-size="18" fill="#6b5a49" textLength="93.57" lengthAdjust="spacing" stroke="#6b5a49" stroke-width="0.7">KOHLRABI</text>
<text x="1431.72" y="503.58" font-size="18" fill="#6b5a49" textLength="79.79" lengthAdjust="spacingAndGlyphs" stroke="#6b5a49" stroke-width="0.7">LETTUCE</text>
<text x="1431.91" y="581.61" font-size="18" fill="#6b5a49" textLength="110.94" lengthAdjust="spacing" stroke="#6b5a49" stroke-width="0.7">LIMA BEANS</text>
<text x="1431.68" y="659.63" font-size="18" fill="#6b5a49" textLength="76.02" lengthAdjust="spacingAndGlyphs" stroke="#6b5a49" stroke-width="0.7">MELONS</text>
<text x="1431.61" y="737.66" font-size="18" fill="#6b5a49" textLength="99.36" lengthAdjust="spacingAndGlyphs" stroke="#6b5a49" stroke-width="0.7">MUSTARDS</text>
<text x="1432.39" y="815.7" font-size="18" fill="#6b5a49" textLength="50.4" lengthAdjust="spacingAndGlyphs" stroke="#6b5a49" stroke-width="0.7">OKRA</text>
<text x="1432.36" y="893.73" font-size="18" fill="#6b5a49" textLength="72.89" lengthAdjust="spacing" stroke="#6b5a49" stroke-width="0.7">ONIONS</text>
<text x="1431.88" y="971.75" font-size="18" fill="#6b5a49" textLength="89.62" lengthAdjust="spacingAndGlyphs" stroke="#6b5a49" stroke-width="0.7">PARSNIPS</text>
<text x="1431.66" y="1049.78" font-size="18" fill="#6b5a49" textLength="47.08" lengthAdjust="spacingAndGlyphs" stroke="#6b5a49" stroke-width="0.7">PEAS</text>
<text x="1431.81" y="1127.82" font-size="18" fill="#6b5a49" textLength="79.16" lengthAdjust="spacingAndGlyphs" stroke="#6b5a49" stroke-width="0.7">PEPPERS</text>
<text x="1431.72" y="1205.85" font-size="18" fill="#6b5a49" textLength="91.71" lengthAdjust="spacingAndGlyphs" stroke="#6b5a49" stroke-width="0.7">POTATOES</text>
<text x="1431.6" y="1283.88" font-size="18" fill="#6b5a49" textLength="92.01" lengthAdjust="spacingAndGlyphs" stroke="#6b5a49" stroke-width="0.7">RADISHES</text>
<text x="1431.9" y="1361.9" font-size="18" fill="#6b5a49" textLength="142.83" lengthAdjust="spacingAndGlyphs" stroke="#6b5a49" stroke-width="0.7">RUNNER BEANS</text>
<text x="1427.82" y="1425.5" font-size="15.4" fill="#6b5a49" textLength="145.71" lengthAdjust="spacingAndGlyphs" class="b">**One harvest only</text>
</g>
</g>
</svg>
</body></html>
